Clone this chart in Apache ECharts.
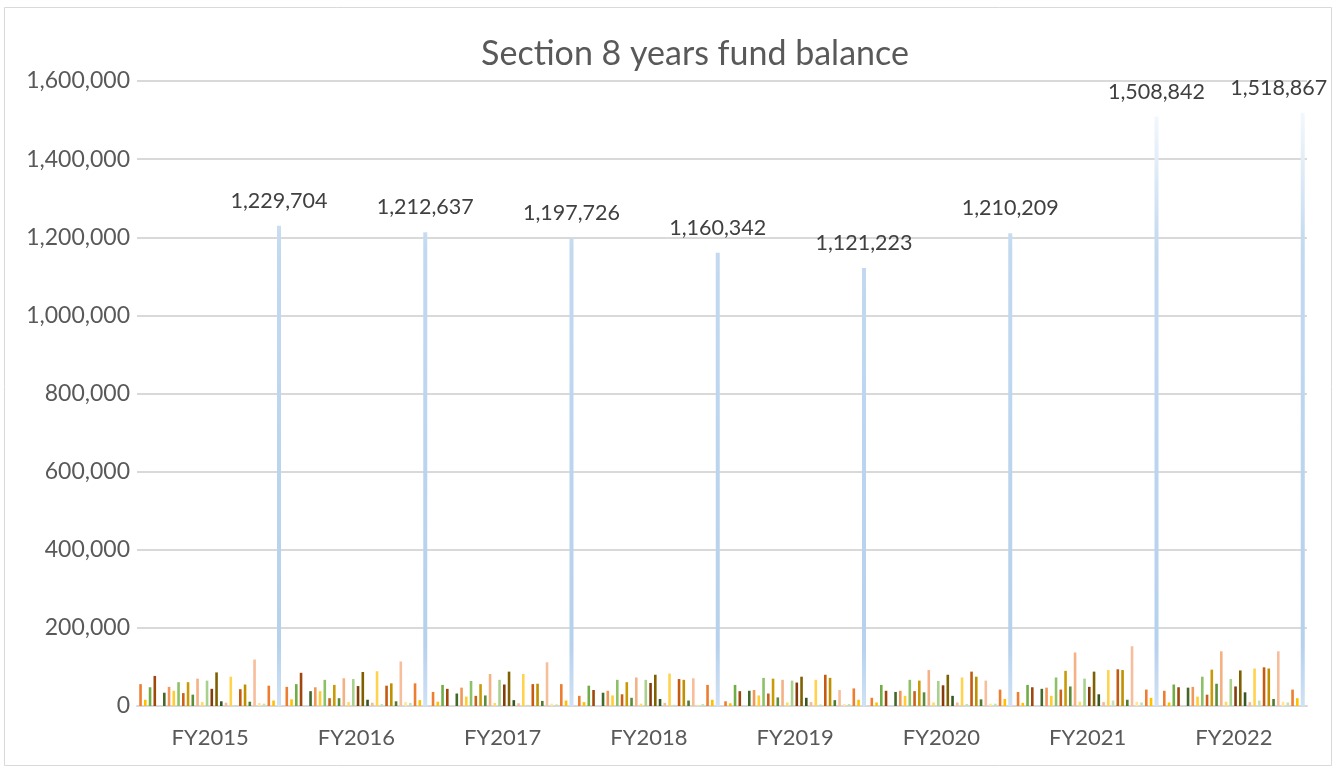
<!DOCTYPE html>
<html style="height: 100%">
<head>
    <meta charset="utf-8">
    <title>Section 8 years fund balance</title>
    <script src="https://cdn.jsdelivr.net/npm/echarts@6.0.0/dist/echarts.min.js"></script>
</head>
<body style="height: 100%; margin: 0; background: #fff">
<div id="container" style="width: 1336px; height: 771px"></div>
<script type="text/javascript">
    // categories
    var years = ['FY2015', 'FY2016', 'FY2017', 'FY2018', 'FY2019', 'FY2020', 'FY2021', 'FY2022'];

    // 29 small accounts per year (left to right inside each year)
    var fy2015 = [56000, 16000, 48000, 77000, 0, 34000, 49000, 39000, 61000, 33000, 61000, 29000, 70000, 10000, 65000, 44000, 86000, 12000, 8500, 75000, 2000, 43000, 55000, 11000, 119000, 8000, 6000, 52000, 14000];
    var fy2016 = [49000, 17000, 56000, 85000, 0, 38000, 48000, 38000, 67000, 20000, 54000, 20000, 71000, 10000, 69000, 51000, 87000, 16000, 8500, 89000, 5000, 52000, 58000, 12000, 114000, 10000, 8000, 58000, 15000];
    var fy2017 = [36000, 11000, 54000, 44000, 0, 32000, 47000, 24000, 64000, 26000, 56000, 27000, 82000, 8000, 67000, 55000, 88000, 15000, 7000, 82000, 3000, 56000, 57000, 13000, 112000, 6000, 4000, 56000, 14000];
    var fy2018 = [26000, 10000, 52000, 41000, 0, 34000, 39000, 27000, 67000, 30000, 61000, 21000, 73000, 6000, 67000, 59000, 80000, 18000, 8000, 83000, 3000, 69000, 67000, 14000, 71000, 3000, 5000, 54000, 16000];
    var fy2019 = [12000, 7000, 54000, 38000, 0, 39000, 41000, 27000, 72000, 32000, 70000, 22000, 67000, 9000, 65000, 60000, 75000, 21000, 10000, 67000, 4000, 80000, 72000, 15000, 41000, 5000, 5000, 45000, 16000];
    var fy2020 = [21000, 9000, 54000, 39000, 0, 36000, 39000, 26000, 67000, 38000, 65000, 35000, 92000, 9000, 64000, 53000, 80000, 26000, 9000, 73000, 5000, 88000, 75000, 17000, 65000, 6000, 6000, 42000, 18000];
    var fy2021 = [36000, 8000, 54000, 48000, 0, 44000, 47000, 26000, 73000, 42000, 90000, 50000, 137000, 11000, 70000, 49000, 88000, 30000, 10000, 92000, 14000, 94000, 92000, 16000, 153000, 11000, 9000, 42000, 21000];
    var fy2022 = [39000, 9000, 55000, 48000, 0, 47000, 49000, 24000, 75000, 29000, 93000, 57000, 140000, 11000, 69000, 50000, 91000, 35000, 10000, 96000, 14000, 99000, 96000, 18000, 140000, 11000, 9000, 42000, 20000];

    // fund balance totals (labelled)
    var totals = [1229704, 1212637, 1197726, 1160342, 1121223, 1210209, 1508842, 1518867];

    // y axis ticks
    var yMin = 0, yMax = 1600000, yStep = 200000;

    var barColors = [
        '#ED7D31', '#FFC000', '#70AD47', '#9E480E', '#997300', '#43682B',
        '#F1975A', '#FFCD33', '#8CC168', '#C8611C', '#C99A06', '#5B8C3C',
        '#F4B183', '#FFD966', '#A9D18E', '#843C0C', '#7F6000', '#375623',
        '#F6B995', '#FFD34D', '#C5E0B4', '#C55A11', '#BF9000', '#4E7A31',
        '#F7BE9C', '#FFE699', '#C5E0B4', '#ED7D31', '#FFC000'
    ];

    var yearRows = [fy2015, fy2016, fy2017, fy2018, fy2019, fy2020, fy2021, fy2022];

    var fmt = function (v) { return Number(v).toLocaleString('en-US'); };
    var font = 'Lato, "Open Sans", sans-serif';

    var series = [];
    for (var i = 0; i < fy2015.length; i++) {
        series.push({
            type: 'bar',
            barWidth: 2.6,
            barGap: '82.7%',
            itemStyle: { color: barColors[i] },
            data: yearRows.map(function (row) { return row[i]; })
        });
    }
    series.push({
        type: 'bar',
        barWidth: 4,
        barGap: '82.7%',
        itemStyle: {
            color: new echarts.graphic.LinearGradient(0, 95, 0, 706, [
                { offset: 0, color: '#FAFCFE' },
                { offset: 0.25, color: '#C2D9F0' },
                { offset: 0.9, color: '#B6D1ED' },
                { offset: 1, color: '#CFE1F4' }
            ], true)
        },
        label: {
            show: true,
            position: 'top',
            distance: 14,
            color: '#404040',
            fontFamily: font,
            fontSize: 21.5,
            formatter: function (p) { return fmt(p.value); }
        },
        // last label is pushed left so it stays inside the chart, as in the original
        data: totals.map(function (v, k) {
            return k === totals.length - 1 ? { value: v, label: { offset: [-24, 0] } } : v;
        })
    });

    var dom = document.getElementById('container');
    var myChart = echarts.init(dom);

    var option = {
        backgroundColor: '#ffffff',
        animation: false,
        title: {
            text: 'Section 8 years fund balance',
            left: 690,
            top: 32,
            textAlign: 'center',
            textStyle: { fontFamily: font, fontSize: 34, fontWeight: 'normal', color: '#595959' }
        },
        graphic: [{
            type: 'rect',
            shape: { x: 4.5, y: 7.5, width: 1327, height: 758 },
            style: { fill: 'none', stroke: '#D9D9D9', lineWidth: 1 },
            silent: true
        }],
        grid: { left: 137, right: 29, top: 81, bottom: 65 },
        xAxis: {
            type: 'category',
            data: years,
            axisTick: { show: false },
            axisLine: { lineStyle: { color: '#D9D9D9', width: 2 } },
            axisLabel: { color: '#595959', fontFamily: font, fontSize: 22, margin: 21 }
        },
        yAxis: {
            type: 'value',
            min: yMin,
            max: yMax,
            interval: yStep,
            axisLine: { show: false },
            axisTick: { show: false },
            splitLine: { lineStyle: { color: '#D9D9D9', width: 2 } },
            axisLabel: { color: '#595959', fontFamily: font, fontSize: 23, margin: 7, formatter: fmt }
        },
        series: series
    };

    myChart.setOption(option);

    window.onresize = function () {
        myChart.resize();
    };
</script>
</body>
</html>
